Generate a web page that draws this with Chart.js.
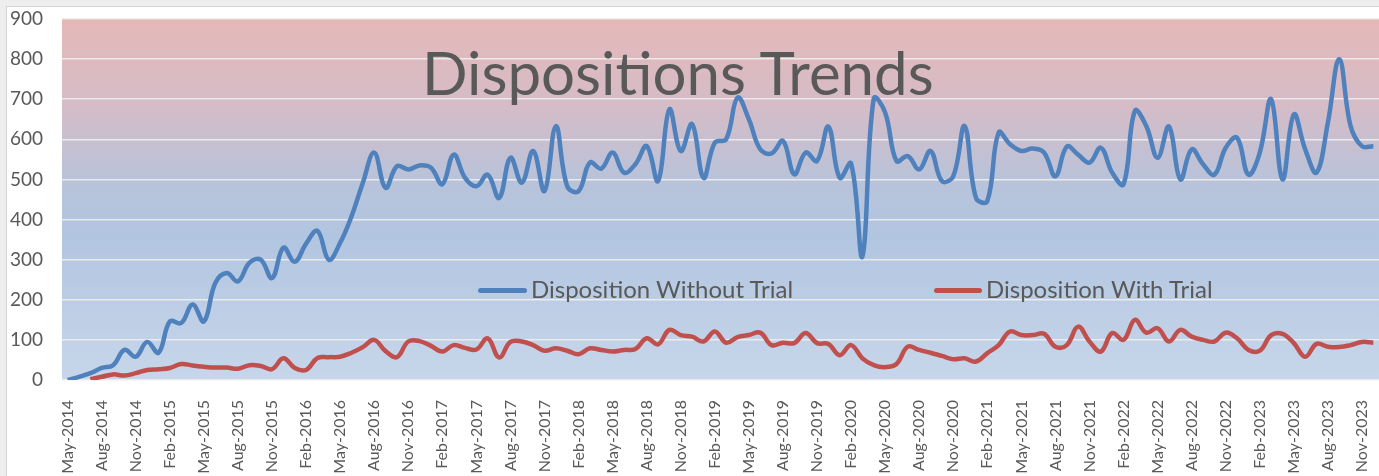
<!DOCTYPE html>
<html>
<head>
<meta charset="utf-8">
<script src="https://cdn.jsdelivr.net/npm/chart.js@4.4.0/dist/chart.umd.min.js"></script>
<style>
body{margin:0;background:#eeeeee;width:1379px;height:476px;overflow:hidden;font-family:Lato,sans-serif}
#frame{position:absolute;left:6px;top:6px;width:1373px;height:470px;background:#fff;border-top:1px solid #d4d4d4;border-left:1px solid #d4d4d4}
#c{position:absolute;left:0;top:0}
.ttl{position:absolute;left:422px;top:42px;font-size:60px;line-height:60px;color:#595959;white-space:nowrap}
.lg{position:absolute;top:277px;font-size:24px;line-height:24px;color:#595959;white-space:nowrap}
.sw{position:absolute;top:288px;height:5px;border-radius:3px}
</style>
</head>
<body>
<div id="frame"><canvas id="c" width="1372" height="469"></canvas></div>
<div class="ttl">Dispositions Trends</div>
<div class="sw" style="left:478px;width:49px;background:#4f81bd"></div>
<div class="lg" style="left:531px">Disposition Without Trial</div>
<div class="sw" style="left:934px;width:48px;background:#c0504d"></div>
<div class="lg" style="left:986px">Disposition With Trial</div>
<script>
// monthly, May-2014 .. Dec-2023
var monthNames = ["Jan","Feb","Mar","Apr","May","Jun","Jul","Aug","Sep","Oct","Nov","Dec"];
var startYear = 2014, startMonth = 4, monthCount = 116;
var months = [];
for (var k = 0; k < monthCount; k++) {
  var m = startMonth + k;
  months.push(monthNames[m % 12] + "-" + (startYear + Math.floor(m / 12)));
}

var withoutTrial = [0,8,17,30,37,75,58,95,68,146,142,188,146,242,267,246,292,300,254,330,
  295,340,372,300,342,408,492,567,479,533,525,535,529,488,562,504,483,512,454,554,
  492,571,471,633,483,471,542,527,567,517,538,583,496,675,571,638,504,592,600,704,
  650,575,565,596,513,567,546,632,504,540,308,702,667,546,558,525,571,496,508,633,
  454,446,617,588,571,577,567,508,582,562,542,579,517,488,671,633,554,632,500,575,
  538,512,579,604,512,567,700,500,662,575,517,642,800,633,583,583];

var withTrial = [null,null,2,8,14,11,17,25,27,30,40,36,33,31,31,28,37,35,27,54,
  30,25,55,57,58,68,82,100,72,57,96,97,85,71,87,80,76,104,56,95,
  96,87,73,79,73,64,79,75,71,75,77,104,89,125,112,108,96,121,93,107,
  112,118,87,93,92,117,92,90,62,87,54,37,32,40,83,75,68,60,52,54,
  46,67,87,121,112,112,115,83,87,133,96,71,117,100,150,118,129,96,125,108,
  100,96,118,104,75,73,112,115,92,58,90,83,82,87,95,93];

var bgPlugin = {
  id: 'bg',
  beforeDraw: function(chart) {
    var a = chart.chartArea, ctx = chart.ctx;
    var g = ctx.createLinearGradient(0, a.top, 0, a.bottom);
    g.addColorStop(0, '#e5b8b8');
    g.addColorStop(0.25, '#d4bcc8');
    g.addColorStop(0.45, '#b8c3da');
    g.addColorStop(0.6, '#b2c5e0');
    g.addColorStop(1, '#c7d6ea');
    ctx.save();
    ctx.fillStyle = g;
    ctx.fillRect(a.left, a.top, a.right - a.left, a.bottom - a.top);
    ctx.restore();
  }
};

function noPad(s) { s.paddingTop = 0; s.paddingBottom = 0; s.paddingLeft = 0; s.paddingRight = 0; }

var ctx = document.getElementById('c').getContext('2d');
var chart = new Chart(ctx, {
  type: 'line',
  data: {
    labels: months,
    datasets: [{
      label: 'Disposition Without Trial',
      data: withoutTrial,
      borderColor: '#4f81bd',
      borderWidth: 4.5,
      pointRadius: 0,
      tension: 0.4
    }, {
      label: 'Disposition With Trial',
      data: withTrial,
      borderColor: '#c0504d',
      borderWidth: 4.5,
      pointRadius: 0,
      tension: 0.4
    }]
  },
  options: {
    responsive: false,
    animation: false,
    layout: { padding: { top: 12, right: 0, left: 0, bottom: 0 } },
    plugins: { legend: { display: false }, title: { display: false }, tooltip: { enabled: false } },
    scales: {
      x: {
        offset: true,
        grid: { display: false },
        border: { display: false },
        ticks: {
          autoSkip: false, maxRotation: 90, minRotation: 90, padding: 12,
          color: '#595959', font: { family: 'Lato', size: 16 },
          callback: function(v, i) { return i % 3 === 0 ? this.getLabelForValue(v) : ''; }
        },
        afterFit: function(s) { s.height = 96; noPad(s); }
      },
      y: {
        min: 0, max: 900,
        border: { display: false },
        grid: { color: 'rgba(236,236,236,0.95)', lineWidth: 1.5, drawTicks: false },
        ticks: { stepSize: 100, padding: 19, color: '#595959', font: { family: 'Lato', size: 19 } },
        afterFit: function(s) { s.width = 55; noPad(s); }
      }
    }
  },
  plugins: [bgPlugin]
});
</script>
</body>
</html>
